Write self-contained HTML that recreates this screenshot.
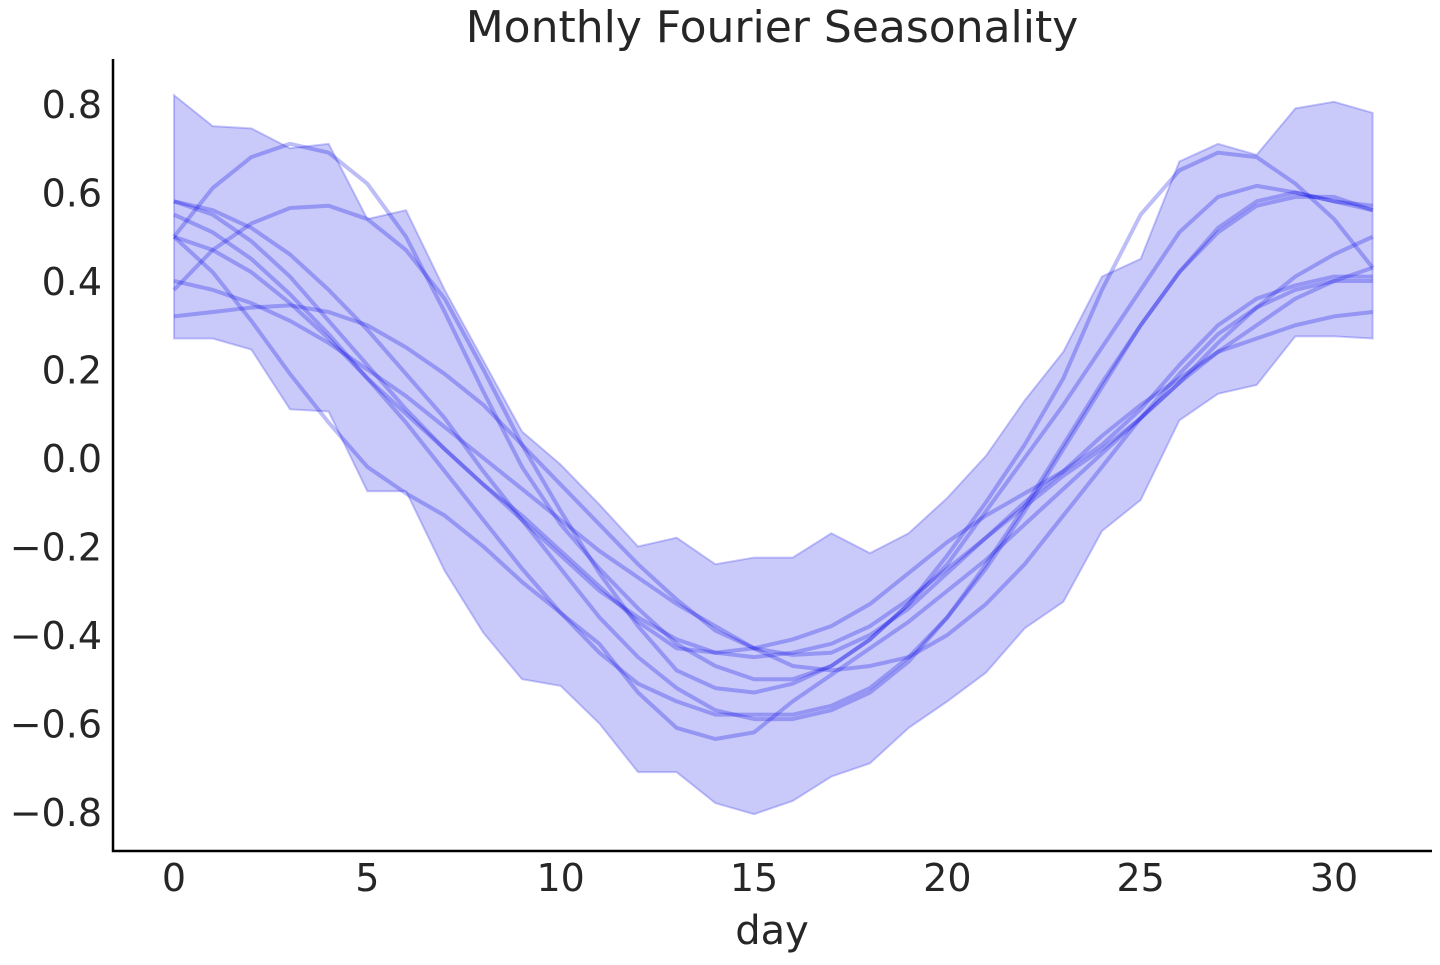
<!DOCTYPE html>
<html><head><meta charset="utf-8">
<style>
html,body{margin:0;padding:0;background:#fff;}
svg text{font-family:"DejaVu Sans","Liberation Sans",sans-serif;fill:#262626;}
</style></head>
<body>
<svg id="chart" width="1440" height="960" xmlns="http://www.w3.org/2000/svg">
<text x="772" y="42" font-size="44" text-anchor="middle">Monthly Fourier Seasonality</text>
<g id="plot"></g>
<g id="axes"></g>
<text x="772" y="944" font-size="40" text-anchor="middle">day</text>
</svg>
<script>
const days = Array.from({length:32},(_,i)=>i);
const bandUpper = [0.82,0.75,0.745,0.70,0.71,0.54,0.56,0.38,0.22,0.06,-0.015,-0.105,-0.20,-0.18,-0.24,-0.225,-0.225,-0.17,-0.215,-0.17,-0.09,0.005,0.13,0.24,0.41,0.45,0.67,0.71,0.685,0.79,0.805,0.78];
const bandLower = [0.27,0.27,0.245,0.11,0.105,-0.075,-0.075,-0.255,-0.395,-0.5,-0.515,-0.6,-0.71,-0.71,-0.78,-0.805,-0.775,-0.72,-0.69,-0.61,-0.55,-0.485,-0.385,-0.325,-0.165,-0.095,0.085,0.145,0.165,0.275,0.275,0.27];
const lineA = [0.50,0.61,0.68,0.71,0.69,0.62,0.50,0.33,0.15,-0.02,-0.15,-0.25,-0.34,-0.42,-0.47,-0.50,-0.50,-0.47,-0.41,-0.33,-0.22,-0.10,0.03,0.18,0.38,0.55,0.65,0.69,0.68,0.62,0.54,0.43];
const lineB = [0.38,0.47,0.53,0.565,0.57,0.54,0.47,0.36,0.20,0.03,-0.12,-0.26,-0.38,-0.48,-0.52,-0.53,-0.51,-0.47,-0.41,-0.33,-0.24,-0.12,0.00,0.12,0.25,0.38,0.51,0.59,0.615,0.60,0.58,0.57];
const lineC = [0.58,0.56,0.52,0.46,0.38,0.29,0.19,0.09,-0.03,-0.14,-0.25,-0.36,-0.45,-0.52,-0.57,-0.59,-0.59,-0.57,-0.53,-0.46,-0.36,-0.24,-0.11,0.03,0.17,0.30,0.42,0.51,0.57,0.59,0.59,0.56];
const lineD = [0.55,0.51,0.45,0.37,0.28,0.18,0.08,-0.03,-0.14,-0.25,-0.35,-0.44,-0.51,-0.55,-0.58,-0.58,-0.58,-0.56,-0.52,-0.45,-0.36,-0.25,-0.12,0.02,0.16,0.30,0.42,0.52,0.58,0.60,0.58,0.56];
const lineE = [0.50,0.42,0.31,0.19,0.08,-0.02,-0.08,-0.13,-0.20,-0.28,-0.35,-0.42,-0.53,-0.61,-0.635,-0.62,-0.55,-0.49,-0.43,-0.37,-0.30,-0.23,-0.15,-0.07,0.01,0.09,0.17,0.24,0.30,0.36,0.40,0.43];
const lineF = [0.40,0.38,0.35,0.31,0.26,0.20,0.14,0.07,0.00,-0.07,-0.14,-0.21,-0.27,-0.33,-0.38,-0.43,-0.47,-0.48,-0.47,-0.45,-0.40,-0.33,-0.24,-0.13,-0.02,0.09,0.19,0.28,0.34,0.38,0.40,0.40];
const lineG = [0.32,0.33,0.34,0.345,0.33,0.30,0.25,0.19,0.12,0.03,-0.06,-0.15,-0.24,-0.32,-0.39,-0.43,-0.445,-0.44,-0.40,-0.34,-0.26,-0.18,-0.10,-0.03,0.05,0.12,0.18,0.24,0.27,0.30,0.32,0.33];
const lineH = [0.58,0.55,0.49,0.41,0.31,0.21,0.11,0.02,-0.06,-0.13,-0.21,-0.29,-0.37,-0.43,-0.44,-0.43,-0.41,-0.38,-0.33,-0.26,-0.19,-0.13,-0.08,-0.03,0.03,0.11,0.21,0.30,0.36,0.39,0.41,0.41];
const lineI = [0.50,0.47,0.42,0.35,0.27,0.18,0.10,0.02,-0.06,-0.14,-0.22,-0.30,-0.36,-0.41,-0.44,-0.45,-0.44,-0.42,-0.38,-0.32,-0.25,-0.18,-0.11,-0.04,0.02,0.09,0.17,0.26,0.34,0.41,0.46,0.50];
const xTicks = [0,5,10,15,20,25,30];
const yTicks = [0.8,0.6,0.4,0.2,0.0,-0.2,-0.4,-0.6,-0.8];

const NS="http://www.w3.org/2000/svg";
const xScale = d => 174 + d*(1334-174)/30;
const yScale = v => 458 - v*442.5;
const plot = document.getElementById('plot');
const axes = document.getElementById('axes');

let pts = days.map((d,i)=>xScale(d)+','+yScale(bandUpper[i]));
for(let i=days.length-1;i>=0;i--) pts.push(xScale(days[i])+','+yScale(bandLower[i]));
const band = document.createElementNS(NS,'polygon');
band.setAttribute('points', pts.join(' '));
band.setAttribute('fill','rgba(0,0,230,0.21)');
band.setAttribute('stroke','rgba(0,0,230,0.21)');
band.setAttribute('stroke-width','2');


plot.appendChild(band);

const series = [lineA,lineB,lineC,lineD,lineE,lineF,lineG,lineH,lineI];
series.forEach((s,k)=>{
  const pl = document.createElementNS(NS,'polyline');
  pl.setAttribute('points', s.map((v,i)=>xScale(days[i])+','+yScale(v)).join(' '));
  pl.setAttribute('fill','none');
  pl.setAttribute('stroke','rgba(10,10,230,0.27)');
  pl.setAttribute('stroke-width','4');
  pl.setAttribute('stroke-linejoin','round');
  
  
  plot.appendChild(pl);
});

const sp = document.createElementNS(NS,'path');
sp.setAttribute('d','M113,59 V851 H1432');
sp.setAttribute('fill','none');
sp.setAttribute('stroke','#000');
sp.setAttribute('stroke-width','2.5');


axes.appendChild(sp);

xTicks.forEach(t=>{
  const tx = document.createElementNS(NS,'text');
  tx.setAttribute('x', xScale(t));
  tx.setAttribute('y', 891);
  tx.setAttribute('font-size','38');
  tx.setAttribute('text-anchor','middle');
  tx.textContent = String(t);
  
  
  axes.appendChild(tx);
});
yTicks.forEach(t=>{
  const tx = document.createElementNS(NS,'text');
  tx.setAttribute('x', 102);
  tx.setAttribute('y', yScale(t)+14);
  tx.setAttribute('font-size','38');
  tx.setAttribute('text-anchor','end');
  tx.textContent = (t<0?'\u2212':'') + Math.abs(t).toFixed(1);
  
  
  axes.appendChild(tx);
});
</script>
</body></html>
